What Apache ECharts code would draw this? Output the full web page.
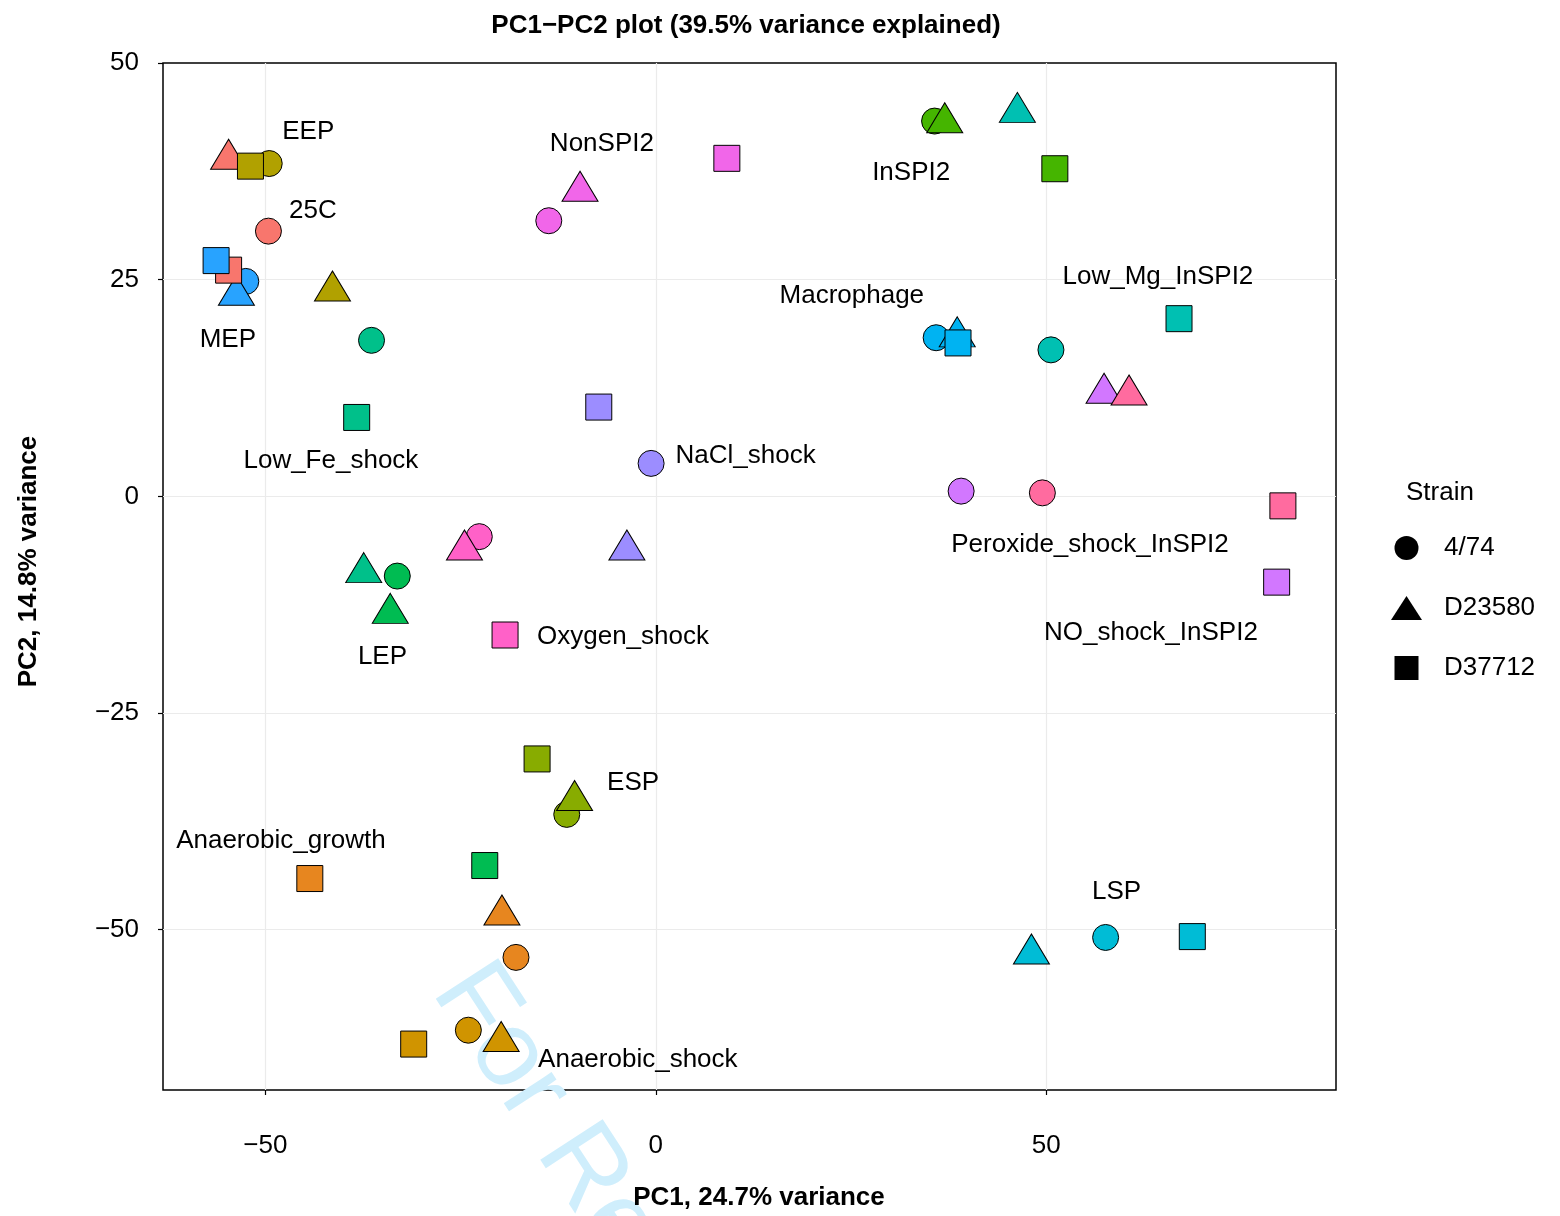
<!DOCTYPE html>
<html><head><meta charset="utf-8">
<script src="https://cdn.jsdelivr.net/npm/echarts@6/dist/echarts.min.js"></script>
<style>html,body{margin:0;padding:0;background:#fff}#chart{width:1560px;height:1216px}</style>
</head><body><div id="chart"></div>
<script>
// ---------------- data ----------------
const conditions = ['25C','Anaerobic_growth','Anaerobic_shock','EEP','ESP','InSPI2','LEP','Low_Fe_shock','Low_Mg_InSPI2','LSP','Macrophage','MEP','NaCl_shock','NO_shock_InSPI2','NonSPI2','Oxygen_shock','Peroxide_shock_InSPI2'];
const conditionColors = ['#F8766D','#E7861F','#D09400','#B1A100','#88AC00','#45B500','#00BC52','#00C08A','#00C0B2','#00BCD6','#00B3F2','#28A3FF','#9C8DFF','#D277FF','#F166E9','#FF61C8','#FF6B9F'];
const strains = ['4/74','D23580','D37712'];

// strain 4/74 (circles)
const pc1_474 = [-49.6,-17.9,-24.0,-49.5,-11.4,35.7,-33.1,-36.4,50.6,57.6,35.9,-52.5,-0.6,39.1,-13.7,-22.6,49.5];
const pc2_474 = [30.6,-53.2,-61.6,38.4,-36.7,43.3,-9.2,18.0,16.9,-50.9,18.3,24.8,3.8,0.6,31.8,-4.65,0.4];
// strain D23580 (triangles)
const pc1_D23580 = [-54.7,-19.7,-19.8,-41.4,-10.4,37.0,-34.0,-37.4,46.3,48.1,38.6,-53.7,-3.7,57.4,-9.7,-24.5,60.6];
const pc2_D23580 = [38.9,-48.3,-62.9,23.7,-35.1,43.1,-13.5,-8.8,44.3,-52.8,18.4,23.2,-6.2,11.9,35.2,-6.2,11.7];
// strain D37712 (squares)
const pc1_D37712 = [-54.7,-44.3,-31.0,-51.9,-15.2,51.1,-21.9,-38.3,67.0,68.7,38.7,-56.3,-7.3,79.5,9.1,-19.3,80.3];
const pc2_D37712 = [26.1,-44.1,-63.2,38.1,-30.3,37.8,-42.6,9.1,20.5,-50.8,17.7,27.2,10.3,-9.9,39.0,-16.0,-1.1];

// condition text labels (repelled positions)
const labelNames = ['EEP','25C','MEP','Low_Fe_shock','NonSPI2','NaCl_shock','Macrophage','InSPI2','Low_Mg_InSPI2','Peroxide_shock_InSPI2','NO_shock_InSPI2','LEP','Oxygen_shock','ESP','Anaerobic_growth','Anaerobic_shock','LSP'];
const labelX = [-44.5,-43.9,-54.8,-41.6,-6.9,11.5,25.1,32.7,64.3,55.6,63.4,-35.0,-4.2,-2.9,-48.0,-2.3,59.0];
const labelY = [42.3,33.2,18.3,4.3,40.9,4.9,23.4,37.6,25.6,-5.4,-15.5,-18.3,-16.0,-32.8,-39.5,-64.8,-45.4];

const xTicks = [-50, 0, 50];
const yTicks = [-50, -25, 0, 25, 50];

// ---------------- chart ----------------
const FONT = '"Liberation Sans", Arial, Helvetica, sans-serif';
const fmt = v => (v < 0 ? '\u2212' + Math.abs(v) : String(v));

function points(xs, ys) {
  return xs.map((x, i) => ({
    name: conditions[i],
    value: [x, ys[i]],
    itemStyle: { color: conditionColors[i] }
  }));
}

const markerStyle = { borderColor: '#000', borderWidth: 1, opacity: 1 };

const chart = echarts.init(document.getElementById('chart'), null, { renderer: 'canvas' });
chart.setOption({
  animation: false,
  backgroundColor: '#fff',
  textStyle: { fontFamily: FONT },
  title: [
    { text: 'PC1\u2212PC2 plot (39.5% variance explained)', left: 741, top: 8, textAlign: 'center',
      textStyle: { fontFamily: FONT, fontSize: 26, fontWeight: 'bold', color: '#000' } },
    { text: 'Strain', left: 1401, top: 475,
      textStyle: { fontFamily: FONT, fontSize: 26, fontWeight: 'normal', color: '#000' } }
  ],
  grid: { left: 163, right: 224, top: 63, bottom: 125, show: true, borderColor: '#000', borderWidth: 1.5, backgroundColor: '#fff' },
  xAxis: {
    type: 'value', min: -63.1, max: 87.1,
    name: 'PC1, 24.7% variance', nameLocation: 'middle', nameGap: 95,
    nameTextStyle: { fontFamily: FONT, fontSize: 26, fontWeight: 'bold', color: '#000', padding: [0, 0, 0, 19], verticalAlign: 'top' },
    axisLine: { show: false, onZero: false },
    axisTick: { show: true, customValues: xTicks, length: 5, lineStyle: { color: '#000', width: 1.2 } },
    axisLabel: { customValues: xTicks, formatter: fmt, fontSize: 26, color: '#000', margin: 43, fontFamily: FONT },
    splitLine: { show: false }
  },
  yAxis: {
    type: 'value', min: -68.5, max: 50,
    name: 'PC2, 14.8% variance', nameLocation: 'middle', nameGap: 121, nameRotate: 90,
    nameTextStyle: { fontFamily: FONT, fontSize: 26, fontWeight: 'bold', color: '#000', padding: [0, 0, 0, 30] },
    axisLine: { show: false, onZero: false },
    axisTick: { show: true, customValues: yTicks, length: 5, lineStyle: { color: '#000', width: 1.2 } },
    axisLabel: { customValues: yTicks, formatter: fmt, fontSize: 26, color: '#000', margin: 24, fontFamily: FONT, padding: [8, 0, 0, 0] },
    splitLine: { show: false }
  },
  legend: {
    orient: 'vertical', left: 1386, top: 530,
    itemWidth: 31, itemHeight: 24, itemGap: 34,
    textStyle: { fontFamily: FONT, fontSize: 26, color: '#000', padding: [0, 0, 0, 17], lineHeight: 24 },
    data: [
      { name: strains[0], icon: 'circle', itemStyle: { color: '#000', borderWidth: 0, opacity: 1 } },
      { name: strains[1], icon: 'triangle', itemStyle: { color: '#000', borderWidth: 0, opacity: 1 } },
      { name: strains[2], icon: 'path://M0,0H24V24H0Z', itemStyle: { color: '#000', borderWidth: 0, opacity: 1 } }
    ]
  },
  graphic: [
    { type: 'text', z: 0, x: 456, y: 975, rotation: -57 * Math.PI / 180, silent: true,
      style: { text: 'For Review', fontFamily: FONT, fontSize: 108, fill: '#CFEEFC', textAlign: 'left', textVerticalAlign: 'middle' } }
  ],
  series: [
    { type: 'scatter', name: 'grid', silent: true, z: 1, data: [],
      markLine: { silent: true, z: 0, symbol: 'none', label: { show: false }, animation: false,
        lineStyle: { color: '#EBEBEB', width: 1.2, type: 'solid' },
        data: xTicks.map(v => ({ xAxis: v })).concat(yTicks.filter(v => v < 50).map(v => ({ yAxis: v }))) } },
    { type: 'scatter', name: strains[0], z: 3, symbol: 'circle', symbolSize: 26, itemStyle: markerStyle,
      data: points(pc1_474, pc2_474) },
    { type: 'scatter', name: strains[1], z: 3, symbol: 'triangle', symbolSize: [36, 30], symbolOffset: [0, -5], itemStyle: markerStyle,
      data: points(pc1_D23580, pc2_D23580) },
    { type: 'scatter', name: strains[2], z: 3, symbol: 'rect', symbolSize: 26, itemStyle: markerStyle,
      data: points(pc1_D37712, pc2_D37712) },
    { type: 'scatter', name: 'labels', z: 10, silent: true, symbol: 'circle', symbolSize: 1,
      itemStyle: { color: 'rgba(0,0,0,0)', opacity: 1 },
      label: { show: true, position: 'inside', offset: [0, 2], formatter: '{b}', fontFamily: FONT, fontSize: 26, color: '#000', opacity: 1, textBorderWidth: 0 },
      data: labelNames.map((n, i) => ({ name: n, value: [labelX[i], labelY[i]] })) }
  ]
});
</script></body></html>
